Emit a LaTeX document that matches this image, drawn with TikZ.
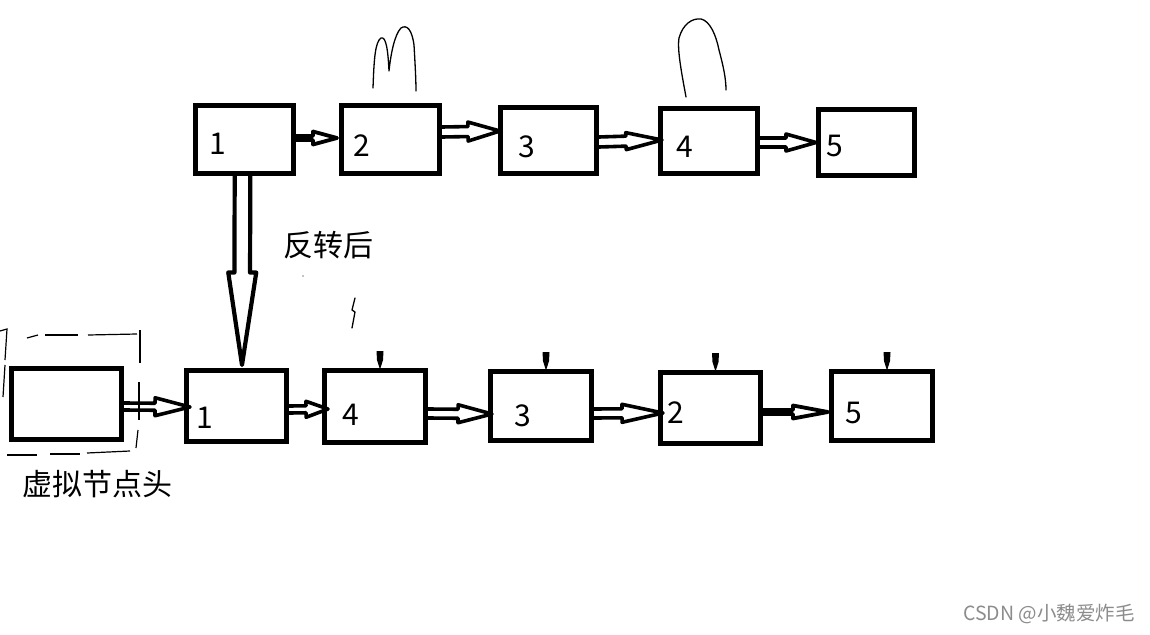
\documentclass[tikz,border=0pt]{standalone}
\usepackage{fontspec}
\setmainfont{Noto Sans CJK SC}
\usetikzlibrary{calc}
\definecolor{wm}{RGB}{140,140,140}
% hollow hand-drawn arrow: [style]{start}{end}{shaft half width}{head half width}{head length}
\newcommand\harrow[6][]{%
  \path (#2) coordinate (hs) (#3) coordinate (he);
  \path ($(he)!#6!(hs)$) coordinate (hb);
  \draw[arrowline,#1] ($(hs)!#4!90:(he)$) -- ($(hb)!#4!90:(he)$) -- ($(hb)!#5!90:(he)$) -- (he)
     -- ($(hb)!#5!-90:(he)$) -- ($(hb)!#4!-90:(he)$) -- ($(hs)!#4!-90:(he)$);
}
\begin{document}
\begin{tikzpicture}[x=1pt,y=-1pt,
  box/.style={draw,line width=5pt,inner sep=0pt},
  lab/.style={font=\fontsize{30}{36}\selectfont,inner sep=0pt},
  arrowline/.style={line width=3.6pt,line join=round,line cap=round},
  scribble/.style={line width=1.3pt,line join=round,line cap=round},
  dashline/.style={line width=1.2pt}]
\fill[white] (0,0) rectangle (1150,634);
\path[use as bounding box] (0,0) rectangle (1150,634);

% top row
\node[box,minimum width=98pt,minimum height=68pt] (T1) at (244.5,139.5) {};
\node[box,minimum width=98pt,minimum height=68pt] (T2) at (390.5,139.5) {};
\node[box,minimum width=96pt,minimum height=66pt] (T3) at (548.5,140.5) {};
\node[box,minimum width=97pt,minimum height=65pt] (T4) at (709,141) {};
\node[box,minimum width=96pt,minimum height=66pt] (T5) at (866.5,142.5) {};
\node[lab] (T1l) at (218,144) {1};
\node[lab] (T2l) at (362,146) {2};
\node[lab] (T3l) at (527,147) {3};
\node[lab] (T4l) at (685,147) {4};
\node[lab] (T5l) at (835,146) {5};

% bottom row
\node[box,minimum width=110pt,minimum height=71pt] (D) at (66.5,404) {};
\node[box,minimum width=100pt,minimum height=71pt] (B1) at (236.5,406) {};
\node[box,minimum width=101pt,minimum height=72pt] (B4) at (375,406.5) {};
\node[box,minimum width=101pt,minimum height=69pt] (B3) at (541,406) {};
\node[box,minimum width=100pt,minimum height=71pt] (B2) at (710.5,408) {};
\node[box,minimum width=101pt,minimum height=69pt] (B5) at (882,406) {};
\node[lab] (B1l) at (205,418) {1};
\node[lab] (B4l) at (351,415) {4};
\node[lab] (B3l) at (523,416) {3};
\node[lab] (B2l) at (676,413) {2};
\node[lab] (B5l) at (853.5,413) {5};

% texts
\node[lab] (rev) at (328,245) {反转后};
\node[lab] (dummy) at (97,484) {虚拟节点头};
\node[font=\fontsize{19.5}{22}\selectfont,text=wm,inner sep=0pt] (wmk) at (1049,614) {CSDN @小魏爱炸毛};

% top arrows
\harrow[line width=3.8pt]{$(T1.east)+(0,-1.5)$}{$(T2.west)+(-2,-1.5)$}{2pt}{6.5pt}{24pt}
\harrow{$(T2.east)+(0,-7.5)$}{$(T3.west)+(2,-9.5)$}{5pt}{9.5pt}{32pt}
\harrow{$(T3.east)+(0,1.5)$}{$(T4.west)+(4,-1)$}{5pt}{8.5pt}{36pt}
\harrow{$(T4.east)+(0,1.5)$}{$(T5.west)+(0,0)$}{4.5pt}{8.5pt}{30pt}

% big reversal arrow
\harrow[line width=4.2pt]{$(T1.south)+(-2,0)$}{$(B1.north)+(5.5,-3)$}{7.8pt}{14pt}{92.5pt}

% bottom arrows
\harrow{$(D.east)+(0,2.5)$}{$(B1.west)+(6,1)$}{3.5pt}{9pt}{35pt}
\harrow{$(B1.east)+(0,3.5)$}{$(B4.west)+(6,2.5)$}{3.5pt}{8pt}{22pt}
\harrow{$(B4.east)+(0,7)$}{$(B3.west)+(4,8)$}{4.5pt}{9pt}{34pt}
\harrow{$(B3.east)+(0,7.5)$}{$(B2.west)+(5,5)$}{4.5pt}{9pt}{41pt}
\harrow[line width=3.8pt]{$(B2.east)+(0,4)$}{$(B5.west)+(-1,6)$}{2pt}{6.5pt}{35pt}

% small marks above bottom boxes
\foreach \b in {B4,B3,B2,B5}{
  \fill ($(\b.north)+(5,0)$) ++(-3.5,-17) -- ++(7,0) -- ++(-0.5,9) -- ++(-2.5,8) -- ++(-1,0) -- ++(-2.5,-8) -- cycle;
}

% dashed hand-drawn frame around dummy head
\draw[dashline] (27,338) -- (38,335);
\draw[dashline] (45,335) -- (78,335);
\draw[dashline] (88,335) -- (137,334);
\draw[dashline] (140,330) -- (140,363);
\draw[dashline] (139,382) -- (139,420);
\draw[dashline] (138,430) -- (136,448);
\draw[dashline] (0,331) -- (7,329) -- (5,360);
\draw[dashline] (5,365) -- (3,397);
\draw[dashline] (7,455) -- (37,455);
\draw[dashline] (50,454) -- (80,454);
\draw[dashline] (87,453) -- (130,451);

% scribbles
\draw[scribble] (373,88) .. controls (374,60) and (375,42) .. (381,38)
  .. controls (386,36) and (388,50) .. (389,71)
  .. controls (391,52) and (395,34) .. (401,28)
  .. controls (407,24) and (412,30) .. (414,45)
  .. controls (415,62) and (416,80) .. (416,91);
\draw[scribble] (686,97) .. controls (682,75) and (677,50) .. (679,38)
  .. controls (683,24) and (692,18) .. (701,19)
  .. controls (710,21) and (716,35) .. (719,50)
  .. controls (723,65) and (726,78) .. (726,90);
\draw[scribble] (355,298) -- (352,310) -- (355,312) -- (352,328);
\fill (303,276) circle (0.7);
\end{tikzpicture}
\end{document}
